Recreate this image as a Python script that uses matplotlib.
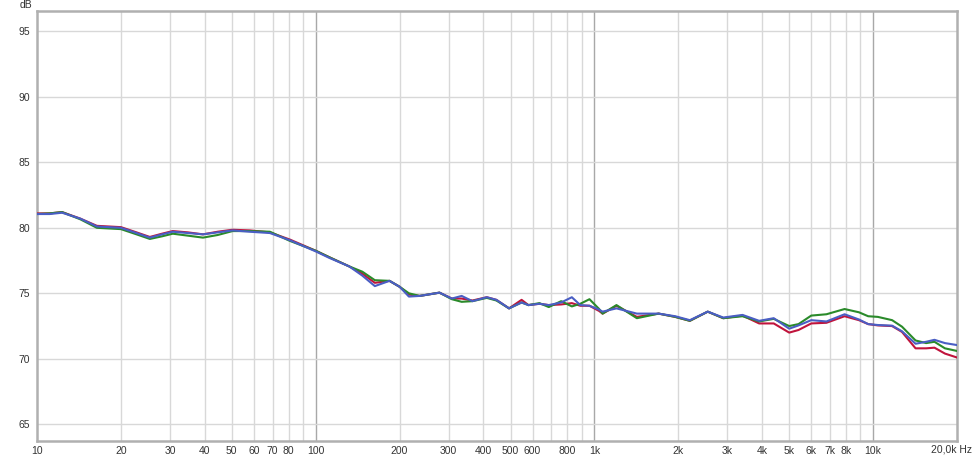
import matplotlib
matplotlib.use("Agg")
import matplotlib.pyplot as plt
import numpy as np

# frequency points (Hz)
freq = [10, 11.1, 12.3, 14.3, 16.4, 20, 22.4, 25.4, 28.1, 30.7, 34.8, 39.4,
        44.5, 50.3, 58, 68.5, 80.8, 100, 112, 132, 147, 163, 184, 200, 216,
        236, 278, 308, 334, 365, 411, 445, 494, 548, 580, 635, 686, 760, 830,
        890, 960, 1040, 1070, 1200, 1420, 1700, 1950, 2200, 2550, 2900, 3400,
        3900, 4400, 5000, 5400, 6000, 6800, 7900, 8900, 9600, 10400, 11700,
        12700, 14200, 15500, 16600, 18100, 20000]

red_db = [81.1, 81.1, 81.2, 80.7, 80.15, 80.05, 79.7, 79.3, 79.55, 79.75,
          79.65, 79.5, 79.7, 79.85, 79.8, 79.65, 79.1, 78.25, 77.75, 77.05,
          76.5, 75.8, 75.95, 75.5, 74.9, 74.8, 75.05, 74.6, 74.6, 74.45, 74.7,
          74.5, 73.85, 74.5, 74.1, 74.2, 74.1, 74.15, 74.25, 74.05, 74.05,
          73.65, 73.45, 74.05, 73.2, 73.45, 73.2, 72.9, 73.6, 73.1, 73.3,
          72.7, 72.7, 72.0, 72.2, 72.7, 72.75, 73.25, 72.95, 72.65, 72.55,
          72.5, 72.05, 70.8, 70.8, 70.85, 70.4, 70.1]

green_db = [81.05, 81.1, 81.2, 80.65, 80.0, 79.9, 79.55, 79.15, 79.35, 79.55,
            79.4, 79.25, 79.45, 79.75, 79.75, 79.7, 79.0, 78.25, 77.75, 77.05,
            76.65, 76.0, 75.95, 75.5, 75.0, 74.8, 75.05, 74.55, 74.35, 74.4,
            74.65, 74.45, 73.85, 74.3, 74.1, 74.25, 73.95, 74.4, 74.0, 74.2,
            74.55, 73.8, 73.45, 74.1, 73.1, 73.45, 73.2, 72.9, 73.6, 73.1,
            73.25, 72.85, 73.05, 72.5, 72.65, 73.3, 73.4, 73.8, 73.55, 73.25,
            73.2, 72.95, 72.45, 71.4, 71.2, 71.3, 70.8, 70.6]

blue_db = [81.05, 81.05, 81.15, 80.7, 80.1, 80.0, 79.65, 79.25, 79.5, 79.7,
           79.6, 79.5, 79.65, 79.8, 79.7, 79.6, 79.05, 78.2, 77.7, 77.05,
           76.35, 75.55, 75.95, 75.5, 74.75, 74.8, 75.05, 74.6, 74.8, 74.4,
           74.7, 74.5, 73.85, 74.3, 74.1, 74.2, 74.1, 74.3, 74.7, 74.1, 74.05,
           73.75, 73.6, 73.85, 73.45, 73.45, 73.25, 72.95, 73.6, 73.15, 73.35,
           72.9, 73.1, 72.3, 72.55, 72.95, 72.85, 73.4, 73.0, 72.65, 72.58,
           72.53, 72.1, 71.15, 71.3, 71.45, 71.2, 71.05]

x_ticks = [10, 20, 30, 40, 50, 60, 70, 80, 100, 200, 300, 400, 500, 600, 800,
           1000, 2000, 3000, 4000, 5000, 6000, 7000, 8000, 10000]
x_labels = ["10", "20", "30", "40", "50", "60", "70", "80", "100", "200",
            "300", "400", "500", "600", "800", "1k", "2k", "3k", "4k", "5k",
            "6k", "7k", "8k", "10k"]
y_ticks = [65, 70, 75, 80, 85, 90, 95]

plt.rcParams['font.family'] = ['Liberation Sans', 'DejaVu Sans']

fig = plt.figure(figsize=(9.75, 4.57), dpi=100)
ax = fig.add_axes([37 / 975, 1 - 440.7 / 457, 920 / 975, 430 / 457])

ax.set_xscale('log')
ax.set_xlim(10, 20000)
ax.set_ylim(63.75, 96.57)

# grid: every 1..9 multiple, decades darker
for dec in [10, 100, 1000, 10000]:
    for m in range(1, 10):
        f = dec * m
        if f <= 10 or f >= 20000:
            continue
        if m == 1:
            ax.axvline(f, color='#a8a8a8', lw=1.0, zorder=1)
        else:
            ax.axvline(f, color='#d8d8d8', lw=1.0, zorder=1)
for y in y_ticks:
    ax.axhline(y, color='#d8d8d8', lw=1.0, zorder=1)

ax.plot(freq, red_db, color='#c0143c', lw=1.5, zorder=3,
        solid_joinstyle='round')
ax.plot(freq, green_db, color='#2a8a2a', lw=1.5, zorder=3,
        solid_joinstyle='round')
ax.plot(freq, blue_db, color='#4a5ec4', lw=1.5, zorder=4,
        solid_joinstyle='round')

ax.set_xticks(x_ticks)
ax.set_xticklabels(x_labels)
ax.minorticks_off()
ax.set_yticks(y_ticks)
ax.set_yticklabels([str(v) for v in y_ticks])
ax.tick_params(axis='both', length=0, labelsize=7.5, colors='#333333')
ax.tick_params(axis='x', pad=4)
ax.tick_params(axis='y', pad=5)

for side in ax.spines.values():
    side.set_color('#b0b0b0')
    side.set_linewidth(1.8)

fig.text(972 / 975, 1 - 450 / 457, "20,0k Hz", ha='right', va='center',
         fontsize=7.5, color='#333333')
fig.text(32 / 975, 1.0, "dB", ha='right', va='top', fontsize=7.5,
         color='#333333')

plt.savefig('out.png', dpi=100)
plt.close()
